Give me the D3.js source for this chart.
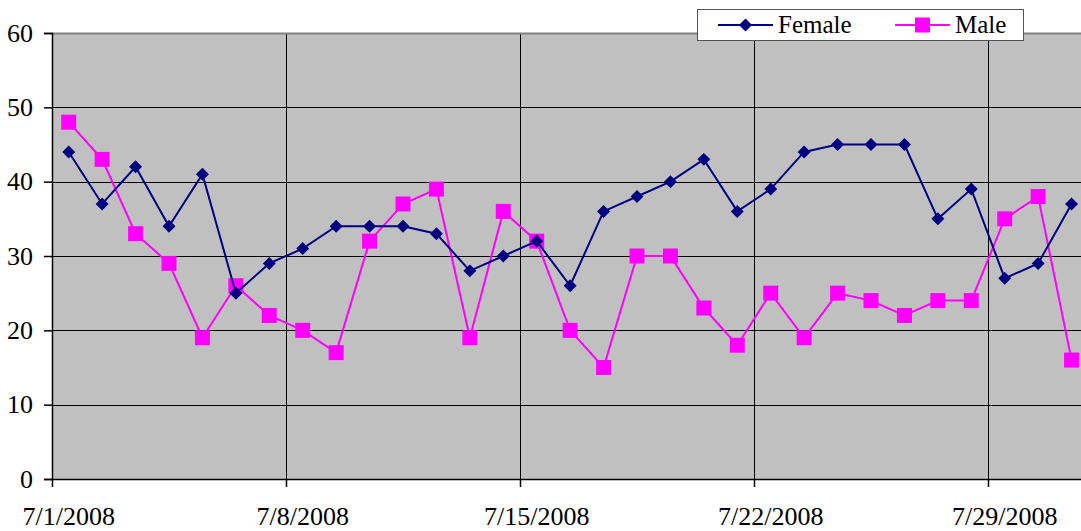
<!DOCTYPE html>
<html>
<head>
<meta charset="utf-8">
<script src="https://cdn.jsdelivr.net/npm/d3@7/dist/d3.min.js"></script>
<style>
  body { margin: 0; background: #fff; overflow: hidden; }
  svg { display: block; font-family: 'Liberation Serif', serif; }
</style>
</head>
<body>
<div id="chart"></div>
<script>
// daily values, July 2008
const days = d3.range(1, 32).map(d => `7/${d}/2008`);
const female = [44, 37, 42, 34, 41, 25, 29, 31, 34, 34, 34, 33, 28, 30, 32, 26, 36, 38, 40, 43, 36, 39, 44, 45, 45, 45, 35, 39, 27, 29, 37];
const male = [48, 43, 33, 29, 19, 26, 22, 20, 17, 32, 37, 39, 19, 36, 32, 20, 15, 30, 30, 23, 18, 25, 19, 25, 24, 22, 24, 24, 35, 38, 16];
const tickDays = ['7/1/2008', '7/8/2008', '7/15/2008', '7/22/2008', '7/29/2008'];
const yTicks = [0, 10, 20, 30, 40, 50, 60];

const W = 1081, H = 531;
const FONT = 'Liberation Serif';
const margin = { top: 33, bottom: 52, left: 52 };
// plot area runs a little past the right edge of the picture
const dayW = 234 / 7;
const width = dayW * days.length;
const height = H - margin.top - margin.bottom;

const svg = d3.select('#chart').append('svg')
  .attr('width', W)
  .attr('height', H);

const chart = svg.append('g')
  .attr('transform', `translate(${margin.left}, ${margin.top})`);

const x = d3.scaleBand()
  .domain(days)
  .range([0, width])
  .padding(0);

const y = d3.scaleLinear()
  .domain([0, 60])
  .range([height, 0]);

const cx = d => x(d) + x.bandwidth() / 2;

// plot background
chart.append('rect')
  .attr('width', width)
  .attr('height', height)
  .attr('fill', '#c0c0c0');

// horizontal grid
chart.append('g')
  .selectAll('line')
  .data(yTicks.slice(1))
  .enter()
  .append('line')
  .attr('x1', 0)
  .attr('x2', width)
  .attr('y1', d => Math.round(y(d)) + 0.5)
  .attr('y2', d => Math.round(y(d)) + 0.5)
  .style('stroke', '#000')
  .style('stroke-width', 1);

// vertical grid at tick dates
chart.append('g')
  .selectAll('line')
  .data(tickDays.slice(1))
  .enter()
  .append('line')
  .attr('x1', d => Math.round(x(d)) + 0.5)
  .attr('x2', d => Math.round(x(d)) + 0.5)
  .attr('y1', 0)
  .attr('y2', height)
  .style('stroke', '#000')
  .style('stroke-width', 1);

// top border
chart.append('line')
  .attr('x1', 0).attr('x2', width)
  .attr('y1', 0.5).attr('y2', 0.5)
  .style('stroke', '#808080')
  .style('stroke-width', 2);

// y axis
const yAxis = chart.append('g')
  .call(d3.axisLeft(y).tickValues(yTicks).tickSize(8).tickPadding(11))
  .attr('font-family', FONT);
yAxis.select('.domain').style('stroke', '#000').style('stroke-width', 1.5);
yAxis.selectAll('.tick line').style('stroke', '#000').style('stroke-width', 1.5);
yAxis.selectAll('.tick text')
  .style('font-size', '26px')
  .attr('fill', '#000');

// x axis, labels sit on the day's centre
const xAxis = chart.append('g')
  .attr('transform', `translate(0, ${height})`)
  .call(d3.axisBottom(x).tickValues(tickDays).tickSize(0).tickPadding(28))
  .attr('font-family', FONT);
xAxis.select('.domain').style('stroke', '#000').style('stroke-width', 1.5);
xAxis.selectAll('.tick line').remove();
xAxis.selectAll('.tick text')
  .style('font-size', '26px')
  .attr('fill', '#000');

// x tick marks at band starts
xAxis.append('g')
  .selectAll('line')
  .data(tickDays)
  .enter()
  .append('line')
  .attr('x1', d => Math.round(x(d)) + 0.5)
  .attr('x2', d => Math.round(x(d)) + 0.5)
  .attr('y1', 0)
  .attr('y2', 8)
  .style('stroke', '#000')
  .style('stroke-width', 1.5);

const line = d3.line()
  .x((d, i) => cx(days[i]))
  .y(d => y(d));

// male series
chart.append('path')
  .datum(male)
  .attr('d', line)
  .attr('fill', 'none')
  .style('stroke', '#ff00ff')
  .style('stroke-width', 2);

chart.append('g')
  .selectAll('rect')
  .data(male)
  .enter()
  .append('rect')
  .attr('x', (d, i) => cx(days[i]) - 7.5)
  .attr('y', d => y(d) - 7.5)
  .attr('width', 15)
  .attr('height', 15)
  .attr('fill', '#ff00ff');

// female series
chart.append('path')
  .datum(female)
  .attr('d', line)
  .attr('fill', 'none')
  .style('stroke', '#000080')
  .style('stroke-width', 2);

const diamond = d3.symbol().type(d3.symbolSquare).size(84);
chart.append('g')
  .selectAll('path')
  .data(female)
  .enter()
  .append('path')
  .attr('d', diamond)
  .attr('transform', (d, i) => `translate(${cx(days[i])}, ${y(d)}) rotate(45)`)
  .attr('fill', '#000080');

// legend
const legend = svg.append('g')
  .attr('transform', 'translate(697, 9)');

legend.append('rect')
  .attr('x', 0.5).attr('y', 0.5)
  .attr('width', 326)
  .attr('height', 31)
  .attr('fill', '#fff')
  .style('stroke', '#555')
  .style('stroke-width', 1);

const items = [
  { name: 'Female', color: '#000080', sym: 'diamond', x0: 21 },
  { name: 'Male', color: '#ff00ff', sym: 'square', x0: 198 }
];

const li = legend.selectAll('.item')
  .data(items)
  .enter()
  .append('g')
  .attr('class', 'item')
  .attr('transform', d => `translate(${d.x0}, 16)`);

li.append('line')
  .attr('x1', 0).attr('x2', 55)
  .attr('y1', 0).attr('y2', 0)
  .style('stroke', d => d.color)
  .style('stroke-width', 2);

li.each(function (d) {
  const g = d3.select(this);
  if (d.sym === 'diamond') {
    g.append('path')
      .attr('d', diamond)
      .attr('transform', 'translate(27.5, 0) rotate(45)')
      .attr('fill', d.color);
  } else {
    g.append('rect')
      .attr('x', 20).attr('y', -7.5)
      .attr('width', 15).attr('height', 15)
      .attr('fill', d.color);
  }
});

li.append('text')
  .attr('x', 60)
  .attr('y', 8)
  .attr('font-family', FONT)
  .style('font-size', '25px')
  .attr('fill', '#000')
  .text(d => d.name);
</script>
</body>
</html>
